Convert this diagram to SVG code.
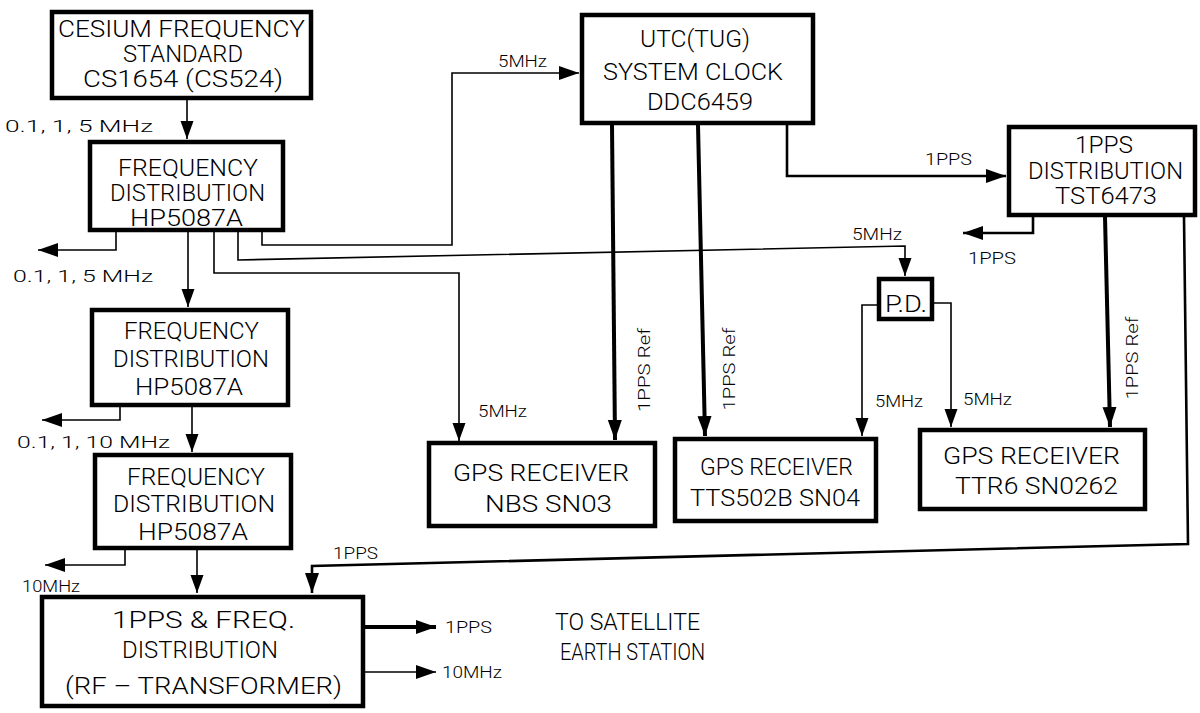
<svg xmlns="http://www.w3.org/2000/svg" width="1200" height="713" viewBox="0 0 1200 713">
<style>
.box{fill:#fff;stroke:#000;stroke-width:4.5}
.t{font-family:Roboto,"Liberation Sans",Arial,sans-serif;font-weight:300;fill:#000;font-size:23px}
.s{font-family:Roboto,"Liberation Sans",Arial,sans-serif;font-weight:300;fill:#000;font-size:17px}
.thin{fill:none;stroke:#000;stroke-width:1.6}
.med{fill:none;stroke:#000;stroke-width:2.6}
.thick{fill:none;stroke:#000;stroke-width:4}
</style>
<defs>
<marker id="ah" markerUnits="userSpaceOnUse" markerWidth="22" markerHeight="16" refX="20" refY="7" orient="auto">
<path d="M0,0 L20,7 L0,14 z" fill="#000"/>
</marker>
<marker id="as" markerUnits="userSpaceOnUse" markerWidth="20" markerHeight="14" refX="18" refY="6.5" orient="auto">
<path d="M0,0 L18,6.5 L0,13 z" fill="#000"/>
</marker>
</defs>
<rect width="1200" height="713" fill="#fff"/>

<g id="connectors">
<path class="thin" d="M187,99 V139" marker-end="url(#as)"/>
<path class="thin" d="M116,232 V250 H38" marker-end="url(#ah)"/>
<path class="thin" d="M188,232 V307" marker-end="url(#as)"/>
<path class="thin" d="M214,232 V273 H459 V441" marker-end="url(#as)"/>
<path class="thin" d="M238,232 V260 L905,246 V276" marker-end="url(#as)"/>
<path class="thin" d="M262,232 V245 H452 V73 H579" marker-end="url(#ah)"/>
<path class="thick" d="M612,125 L615,440" marker-end="url(#ah)"/>
<path class="thick" d="M698,125 L705,436" marker-end="url(#ah)"/>
<path class="med" d="M787,125 V176 H1006" marker-end="url(#ah)"/>
<path class="med" d="M1033,217 V233 H963" marker-end="url(#ah)"/>
<path class="thick" d="M1105,217 L1110,427" marker-end="url(#ah)"/>
<path class="med" d="M1184,217 L1188,544 L312,566 V593" marker-end="url(#ah)"/>
<path class="thin" d="M877,305 H862 V436" marker-end="url(#as)"/>
<path class="thin" d="M933,303 H951 V427" marker-end="url(#as)"/>
<path class="thin" d="M120,407 V420 H42" marker-end="url(#ah)"/>
<path class="thin" d="M192,407 V452" marker-end="url(#as)"/>
<path class="thin" d="M125,550 V565 H45" marker-end="url(#ah)"/>
<path class="thin" d="M197,550 V593" marker-end="url(#as)"/>
<path class="thick" d="M365,627 H436" marker-end="url(#ah)"/>
<path class="thin" d="M365,672 H436" marker-end="url(#ah)"/>
</g>

<g id="labels">
<text class="s" x="5" y="132" textLength="148" lengthAdjust="spacingAndGlyphs">0.1, 1, 5 MHz</text>
<text class="s" x="13" y="282" textLength="140" lengthAdjust="spacingAndGlyphs">0.1, 1, 5 MHz</text>
<text class="s" x="17" y="448" textLength="153" lengthAdjust="spacingAndGlyphs">0.1, 1, 10 MHz</text>
<text class="s" x="22" y="592" textLength="58" lengthAdjust="spacingAndGlyphs">10MHz</text>
<text class="s" x="498" y="67" textLength="49" lengthAdjust="spacingAndGlyphs">5MHz</text>
<text class="s" x="925" y="165" textLength="47" lengthAdjust="spacingAndGlyphs">1PPS</text>
<text class="s" x="852" y="240" textLength="50" lengthAdjust="spacingAndGlyphs">5MHz</text>
<text class="s" x="968" y="264" textLength="48" lengthAdjust="spacingAndGlyphs">1PPS</text>
<text class="s" x="478" y="417" textLength="49" lengthAdjust="spacingAndGlyphs">5MHz</text>
<text class="s" x="875" y="407" textLength="48" lengthAdjust="spacingAndGlyphs">5MHz</text>
<text class="s" x="963" y="405" textLength="49" lengthAdjust="spacingAndGlyphs">5MHz</text>
<text class="s" x="333" y="559" textLength="45" lengthAdjust="spacingAndGlyphs">1PPS</text>
<text class="s" x="445" y="633" textLength="47" lengthAdjust="spacingAndGlyphs">1PPS</text>
<text class="s" x="442" y="678" textLength="60" lengthAdjust="spacingAndGlyphs">10MHz</text>
<text class="s" transform="translate(650,370) rotate(-90)" text-anchor="middle" textLength="84" lengthAdjust="spacingAndGlyphs">1PPS Ref</text>
<text class="s" transform="translate(735,369) rotate(-90)" text-anchor="middle" textLength="83" lengthAdjust="spacingAndGlyphs">1PPS Ref</text>
<text class="s" transform="translate(1138,358) rotate(-90)" text-anchor="middle" textLength="83" lengthAdjust="spacingAndGlyphs">1PPS Ref</text>
<text class="t" x="555" y="630" font-size="22" textLength="145" lengthAdjust="spacingAndGlyphs">TO SATELLITE</text>
<text class="t" x="560" y="660" font-size="22" textLength="145" lengthAdjust="spacingAndGlyphs">EARTH STATION</text>
</g>

<g id="cesium">
<rect class="box" x="52" y="12" width="259" height="86"/>
<text class="t" x="58" y="37" font-size="21" textLength="247" lengthAdjust="spacingAndGlyphs">CESIUM FREQUENCY</text>
<text class="t" x="123" y="62" font-size="21" textLength="120" lengthAdjust="spacingAndGlyphs">STANDARD</text>
<text class="t" x="83" y="87" font-size="21" textLength="200" lengthAdjust="spacingAndGlyphs">CS1654 (CS524)</text>
</g>

<g id="freqdist1">
<rect class="box" x="90" y="142" width="193" height="88"/>
<text class="t" x="118" y="176" font-size="21" textLength="140" lengthAdjust="spacingAndGlyphs">FREQUENCY</text>
<text class="t" x="110" y="201" font-size="21" textLength="155" lengthAdjust="spacingAndGlyphs">DISTRIBUTION</text>
<text class="t" x="130" y="226" font-size="21" textLength="113" lengthAdjust="spacingAndGlyphs">HP5087A</text>
</g>

<g id="freqdist2">
<rect class="box" x="92" y="310" width="196" height="95"/>
<text class="t" x="124" y="339" textLength="135" lengthAdjust="spacingAndGlyphs">FREQUENCY</text>
<text class="t" x="113" y="367" textLength="156" lengthAdjust="spacingAndGlyphs">DISTRIBUTION</text>
<text class="t" x="135" y="395" textLength="108" lengthAdjust="spacingAndGlyphs">HP5087A</text>
</g>

<g id="freqdist3">
<rect class="box" x="95" y="455" width="196" height="93"/>
<text class="t" x="127" y="485" textLength="138" lengthAdjust="spacingAndGlyphs">FREQUENCY</text>
<text class="t" x="113" y="512" textLength="162" lengthAdjust="spacingAndGlyphs">DISTRIBUTION</text>
<text class="t" x="138" y="540" textLength="110" lengthAdjust="spacingAndGlyphs">HP5087A</text>
</g>

<g id="ppsfreq">
<rect class="box" x="42" y="597" width="321" height="109"/>
<text class="t" x="112" y="628" font-size="24" textLength="183" lengthAdjust="spacingAndGlyphs">1PPS &amp; FREQ.</text>
<text class="t" x="122" y="658" font-size="24" textLength="156" lengthAdjust="spacingAndGlyphs">DISTRIBUTION</text>
<text class="t" x="65" y="694" font-size="24" textLength="277" lengthAdjust="spacingAndGlyphs">(RF – TRANSFORMER)</text>
</g>

<g id="utc">
<rect class="box" x="582" y="15" width="231" height="108"/>
<text class="t" x="640" y="47" font-size="24" textLength="110" lengthAdjust="spacingAndGlyphs">UTC(TUG)</text>
<text class="t" x="603" y="80" font-size="24" textLength="180" lengthAdjust="spacingAndGlyphs">SYSTEM CLOCK</text>
<text class="t" x="647" y="110" font-size="24" textLength="106" lengthAdjust="spacingAndGlyphs">DDC6459</text>
</g>

<g id="ppsdist">
<rect class="box" x="1009" y="127" width="186" height="88"/>
<text class="t" x="1075" y="153" textLength="58" lengthAdjust="spacingAndGlyphs">1PPS</text>
<text class="t" x="1028" y="179" textLength="155" lengthAdjust="spacingAndGlyphs">DISTRIBUTION</text>
<text class="t" x="1055" y="204" textLength="102" lengthAdjust="spacingAndGlyphs">TST6473</text>
</g>

<g id="pd">
<rect class="box" x="879" y="279" width="53" height="40"/>
<text class="t" x="885" y="312" font-size="22" textLength="42" lengthAdjust="spacingAndGlyphs">P.D.</text>
</g>

<g id="gps-nbs">
<rect class="box" x="429" y="443" width="226" height="83"/>
<text class="t" x="453" y="481" font-size="25" textLength="176" lengthAdjust="spacingAndGlyphs">GPS RECEIVER</text>
<text class="t" x="485" y="512" font-size="25" textLength="127" lengthAdjust="spacingAndGlyphs">NBS SN03</text>
</g>

<g id="gps-tts">
<rect class="box" x="675" y="439" width="201" height="82"/>
<text class="t" x="700" y="475" font-size="25" textLength="153" lengthAdjust="spacingAndGlyphs">GPS RECEIVER</text>
<text class="t" x="690" y="506" font-size="25" textLength="170" lengthAdjust="spacingAndGlyphs">TTS502B SN04</text>
</g>

<g id="gps-ttr6">
<rect class="box" x="920" y="430" width="225" height="79"/>
<text class="t" x="943" y="464" font-size="25" textLength="177" lengthAdjust="spacingAndGlyphs">GPS RECEIVER</text>
<text class="t" x="955" y="494" font-size="25" textLength="163" lengthAdjust="spacingAndGlyphs">TTR6 SN0262</text>
</g>
</svg>
